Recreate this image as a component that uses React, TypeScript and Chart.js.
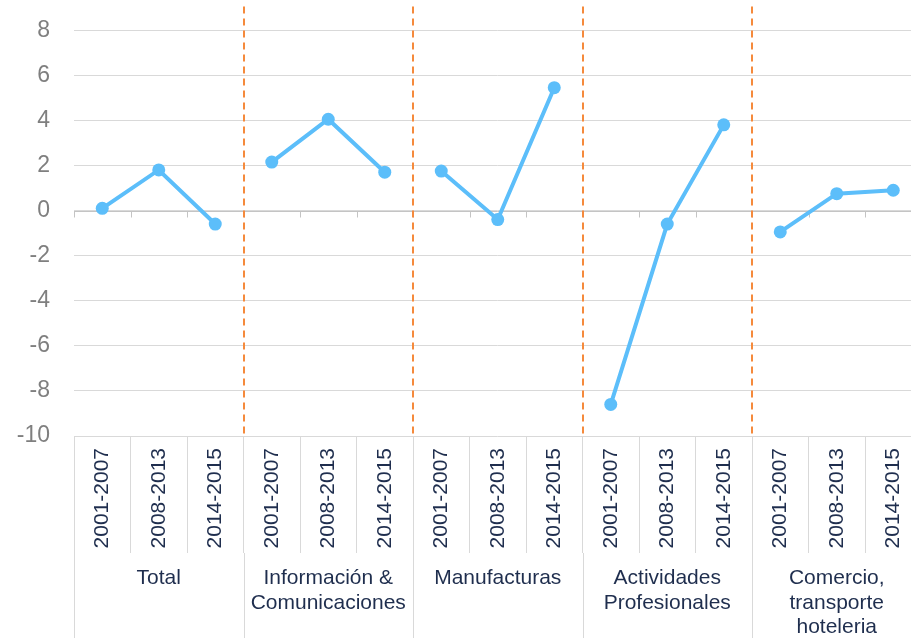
import React, { useEffect, useRef } from 'react';
import { Chart, registerables } from 'chart.js';

Chart.register(...registerables);

// ---- data ----
const periods = ['2001-2007', '2008-2013', '2014-2015'];
const groups: string[][] = [
  ['Total'],
  ['Información &', 'Comunicaciones'],
  ['Manufacturas'],
  ['Actividades', 'Profesionales'],
  ['Comercio,', 'transporte', 'hoteleria'],
];
const categories = groups.flatMap(() => periods);
const values = [0.1, 1.8, -0.6, 2.15, 4.05, 1.7, 1.75, -0.4, 5.45, -8.6, -0.6, 3.8, -0.95, 0.75, 0.9];
const yTicks = [-10, -8, -6, -4, -2, 0, 2, 4, 6, 8];

const FONT = "'Liberation Sans', Arial, sans-serif";
const NAVY = '#1F2E4E';
const LINE = '#5CBEFA';

const decorPlugin = {
  id: 'decor',
  beforeDatasetsDraw(chart: any) {
    const { ctx, chartArea, scales } = chart;
    const x = scales.x;
    const y = scales.y;
    const step = x.getPixelForValue(1) - x.getPixelForValue(0);
    const boundary = (i: number) => x.getPixelForValue(i) - step / 2;
    const y0 = Math.round(y.getPixelForValue(0)) + 0.5;
    ctx.save();
    // zero axis line with ticks
    ctx.strokeStyle = '#c4c4c4';
    ctx.lineWidth = 1;
    ctx.beginPath();
    ctx.moveTo(chartArea.left, y0);
    ctx.lineTo(chartArea.right, y0);
    for (let i = 0; i <= categories.length; i++) {
      const bx = Math.round(boundary(i)) + 0.5;
      ctx.moveTo(bx, y0);
      ctx.lineTo(bx, y0 + 6);
    }
    ctx.stroke();
    // group separators (dashed)
    ctx.strokeStyle = '#F58A3C';
    ctx.lineWidth = 2;
    ctx.setLineDash([7, 5]);
    ctx.beginPath();
    for (let g = 1; g < groups.length; g++) {
      const bx = Math.round(boundary(g * periods.length));
      ctx.moveTo(bx, chartArea.top);
      ctx.lineTo(bx, chartArea.bottom);
    }
    ctx.stroke();
    ctx.restore();
  },
  afterDraw(chart: any) {
    const { ctx, scales } = chart;
    const x = scales.x;
    const step = x.getPixelForValue(1) - x.getPixelForValue(0);
    const boundary = (i: number) => x.getPixelForValue(i) - step / 2;
    const top = x.top + 117;
    const bottom = chart.height;
    ctx.save();
    ctx.strokeStyle = '#d9d9d9';
    ctx.lineWidth = 1;
    ctx.beginPath();
    for (let g = 0; g <= groups.length; g++) {
      const bx = Math.round(boundary(g * periods.length)) + 0.5;
      ctx.moveTo(bx, top);
      ctx.lineTo(bx, bottom);
    }
    ctx.stroke();
    ctx.fillStyle = NAVY;
    ctx.font = `21px ${FONT}`;
    ctx.textAlign = 'center';
    ctx.textBaseline = 'middle';
    groups.forEach((lines, g) => {
      const cx = x.getPixelForValue(g * periods.length + 1);
      lines.forEach((t, k) => {
        ctx.fillText(t, cx, x.top + 142.5 + k * 24.5);
      });
    });
    ctx.restore();
  },
};

export default function App() {
  const ref = useRef<HTMLCanvasElement>(null);
  useEffect(() => {
    if (!ref.current) return;
    const chart = new Chart(ref.current, {
      type: 'line',
      data: {
        labels: categories,
        datasets: [
          {
            data: values,
            borderColor: LINE,
            backgroundColor: LINE,
            borderWidth: 4,
            pointRadius: 6.5,
            pointHoverRadius: 6.5,
            pointBackgroundColor: LINE,
            pointBorderWidth: 0,
            tension: 0,
            fill: false,
            segment: {
              borderColor: (c: any) => (c.p1DataIndex % periods.length === 0 ? 'rgba(0,0,0,0)' : undefined),
            },
          },
        ],
      },
      options: {
        animation: false,
        responsive: false,
        devicePixelRatio: 1,
        layout: { padding: { top: 5, left: 0, right: 0, bottom: 0 } },
        plugins: { legend: { display: false }, tooltip: { enabled: false } },
        scales: {
          x: {
            type: 'category',
            offset: true,
            grid: {
              offset: true,
              drawOnChartArea: false,
              drawTicks: true,
              tickLength: 117,
              color: '#d9d9d9',
            },
            border: { display: false },
            ticks: {
              autoSkip: false,
              minRotation: 90,
              maxRotation: 90,
              padding: -105,
              color: NAVY,
              font: { family: FONT, size: 21 },
            },
            afterFit: (s: any) => {
              s.height = 202;
              s.paddingLeft = 0;
              s.paddingRight = 0;
            },
          },
          y: {
            min: -10,
            max: 9.05,
            afterBuildTicks: (s: any) => {
              s.ticks = yTicks.map((v) => ({ value: v }));
            },
            grid: { color: '#d9d9d9', drawTicks: false },
            border: { display: false },
            ticks: {
              padding: 24,
              color: '#7f7f7f',
              font: { family: FONT, size: 23 },
            },
            afterFit: (s: any) => {
              s.width = 74;
              s.paddingTop = 0;
              s.paddingBottom = 0;
            },
          },
        },
      },
      plugins: [decorPlugin],
    });
    return () => chart.destroy();
  }, []);
  return (
    <div
      style={{
        position: 'fixed',
        left: 0,
        top: 0,
        width: 911,
        height: 638,
        overflow: 'hidden',
        background: '#fff',
      }}
    >
      <canvas ref={ref} width={928} height={638} style={{ width: 928, height: 638, display: 'block' }} />
    </div>
  );
}
